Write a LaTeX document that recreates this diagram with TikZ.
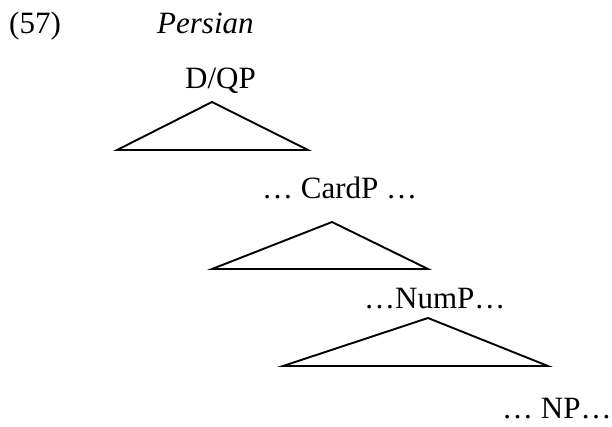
\documentclass[tikz,border=0pt]{standalone}
\usepackage{fontspec}
\setmainfont{Liberation Serif}
\begin{document}
\begin{tikzpicture}[x=1pt,y=-1pt,
  lbl/.style={anchor=base west,inner sep=0pt,font=\fontsize{31}{36}\selectfont},
  tri/.style={draw=black,line width=1.9pt,line join=miter}]
\useasboundingbox[fill=white] (0,0) rectangle (612,426);
\node[lbl] (num) at (9,33) {(57)};
\node[lbl] (lang) at (157,33) {\itshape Persian};
\node[lbl] (dqp) at (185,88) {D/QP};
\node[lbl] (card) at (262,198) {… CardP …};
\node[lbl] (nump) at (364,308) {…NumP…};
\node[lbl] (np) at (502,418) {… NP…};
% triangle 1
\coordinate (t1a) at (212,102);
\coordinate (t1l) at (117,150);
\coordinate (t1r) at (308,150);
\draw[tri] (t1a) -- (t1l) -- (t1r) -- cycle;
% triangle 2
\coordinate (t2a) at (332,222);
\coordinate (t2l) at (212,269);
\coordinate (t2r) at (428,269);
\draw[tri] (t2a) -- (t2l) -- (t2r) -- cycle;
% triangle 3
\coordinate (t3a) at (428,318);
\coordinate (t3l) at (283,366);
\coordinate (t3r) at (548,366);
\draw[tri] (t3a) -- (t3l) -- (t3r) -- cycle;
\end{tikzpicture}
\end{document}
